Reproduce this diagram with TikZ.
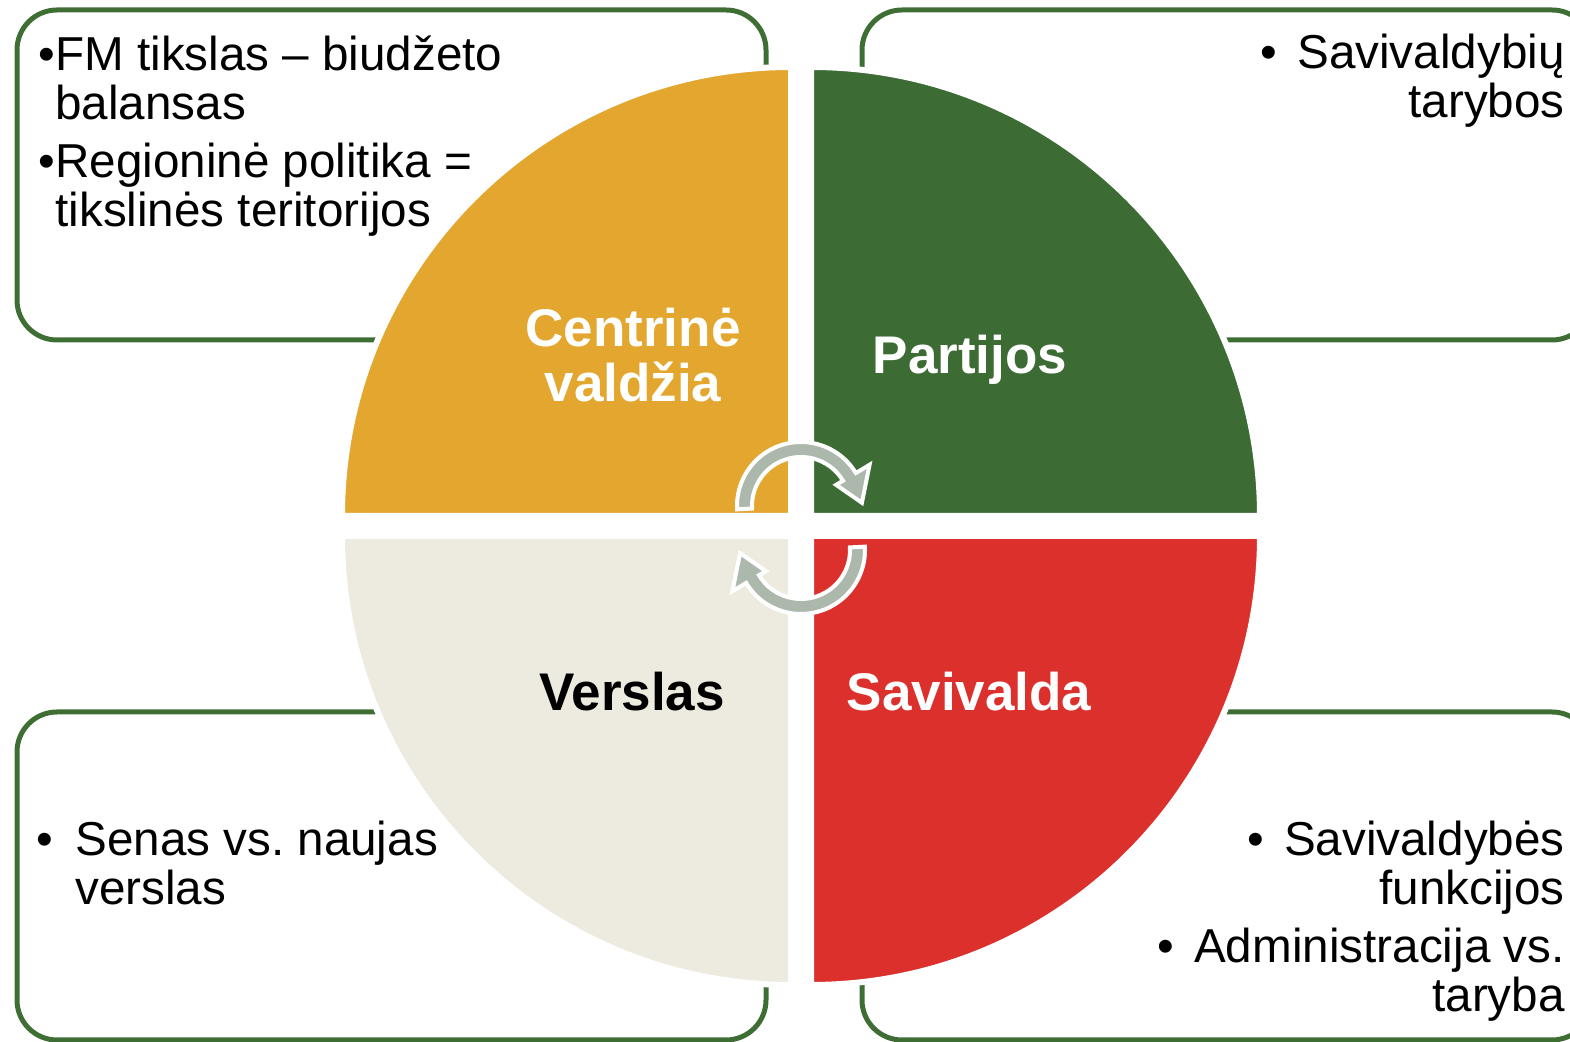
\documentclass[tikz,border=0pt]{standalone}
\usepackage{fontspec}
\setmainfont{Liberation Sans}
\frenchspacing

\definecolor{goldpie}{HTML}{E3A72F}
\definecolor{greenpie}{HTML}{3C6B34}
\definecolor{redpie}{HTML}{DC302D}
\definecolor{sandpie}{HTML}{EDEBE0}
\definecolor{boxgreen}{HTML}{3F6E35}
\definecolor{arrowgray}{HTML}{ADB8AC}

\tikzset{
  infobox/.style={draw=boxgreen, line width=2.5pt, rounded corners=20pt},
  quarter/.style={draw=white, line width=3pt},
  sectorlabel/.style={font=\fontsize{26.5}{27.5}\selectfont\bfseries, align=center, inner sep=0pt},
  notetext/.style={font=\fontsize{23.8}{24.5}\selectfont, inner sep=0pt},
  turnarrow/.style={fill=arrowgray, draw=white, line width=2pt}
}

\begin{document}
\begin{tikzpicture}[x=0.5pt, y=0.5pt]
    \useasboundingbox (0,0) rectangle (1570,1042);
    % Corner boxes
    \draw[infobox] (17,702) rectangle (766,1032);
    \draw[infobox] (862,702) rectangle (1592,1032);
    \draw[infobox] (17,2) rectangle (766,330);
    \draw[infobox] (862,2) rectangle (1592,330);
    % The four quarters of the circle
    \filldraw[quarter, fill=goldpie] (791,526) -- ++(0,449)
        arc[start angle=90, end angle=180, radius=449] -- cycle;
    \filldraw[quarter, fill=greenpie] (811,526) -- ++(449,0)
        arc[start angle=0, end angle=90, radius=449] -- cycle;
    \filldraw[quarter, fill=sandpie] (791,506) -- ++(-449,0)
        arc[start angle=180, end angle=270, radius=449] -- cycle;
    \filldraw[quarter, fill=redpie] (811,506) -- ++(0,-449)
        arc[start angle=270, end angle=360, radius=449] -- cycle;
    % Turning arrows in the middle
    \foreach \turn/\ypos in {0/536, 180/492} {
      \begin{scope}[shift={(801,\ypos)}, rotate=\turn]
        \filldraw[turnarrow] (183:64) arc[start angle=183, end angle=31, radius=64]
            -- (31:80) -- (3:61) -- (31:41) -- (31:49)
            arc[start angle=31, end angle=183, radius=49] -- cycle;
      \end{scope}
    }
    % Sector labels
    \node[sectorlabel, text=white, anchor=base] (central) at (633,640) {Centrinė\\valdžia};
    \node[sectorlabel, text=white, anchor=base] (parties) at (970,668) {Partijos};
    \node[sectorlabel, text=black, anchor=base] (business) at (632,331) {Verslas};
    \node[sectorlabel, text=white, anchor=base] (selfgov) at (969,331) {Savivalda};
    % Notes in the boxes
    \node[notetext, anchor=base west, align=left] (fmnote) at (55,815)
        {\llap{•}FM tikslas – biudžeto\\balansas\\[4.5pt]\llap{•}Regioninė politika =\\tikslinės teritorijos};
    \node[notetext, anchor=base east, align=right] (councilnote) at (1565,924)
        {•\hspace{0.42em}Savivaldybių\\tarybos};
    \node[notetext, anchor=base west, align=left] (businessnote) at (75,137)
        {\llap{•\hspace{0.47em}}Senas vs. naujas\\verslas};
    \node[notetext, anchor=base east, align=right] (functionsnote) at (1565,30)
        {•\hspace{0.42em}Savivaldybės\\funkcijos\\[4.5pt]•\hspace{0.42em}Administracija vs.\\taryba};
\end{tikzpicture}
\end{document}
